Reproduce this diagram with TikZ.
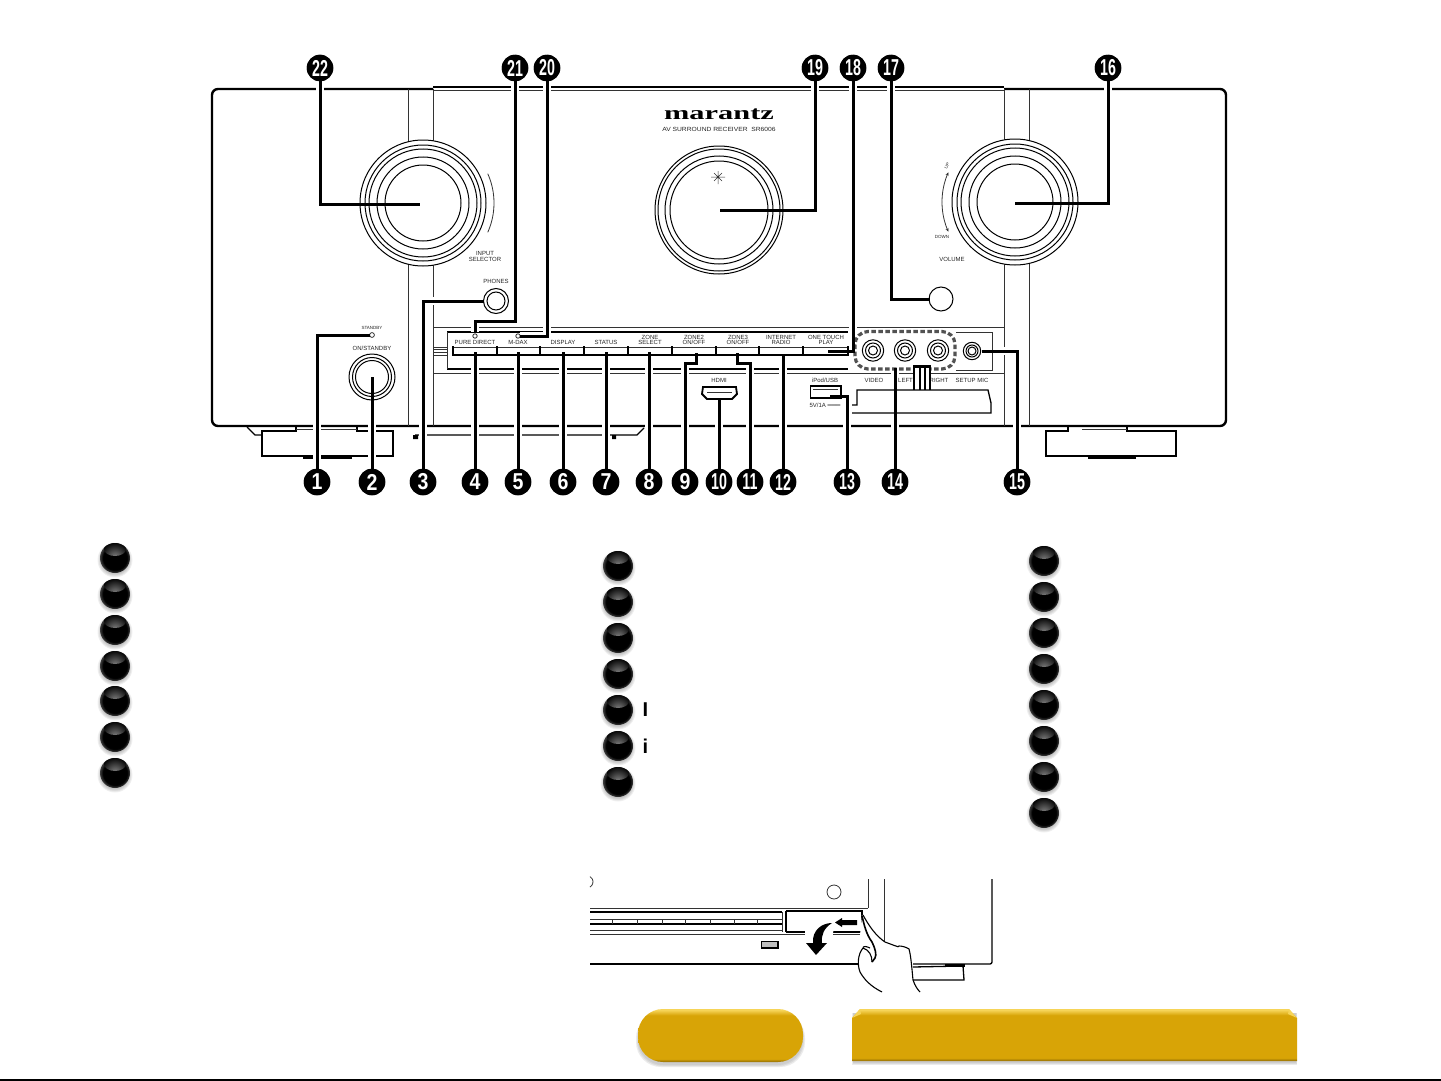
\documentclass[tikz,border=0pt]{standalone}
\usepackage{fontspec}
\setmainfont{Liberation Sans}
\newfontfamily\numA[FakeStretch=0.85]{Liberation Sans Bold}
\newfontfamily\numB[FakeStretch=0.62]{Liberation Sans Bold}
\newfontfamily\logofont[FakeStretch=1.6]{Liberation Serif Bold}
\newfontfamily\labfont[FakeStretch=1.12]{Liberation Sans}
\usetikzlibrary{arrows.meta}
\definecolor{goldbase}{HTML}{D8A406}
\definecolor{goldlight}{HTML}{F6D458}
\definecolor{golddark}{HTML}{8F6C04}
\definecolor{rimgray}{gray}{0.24}
\pgfdeclareradialshading{gloss}{\pgfpointorigin}{color(0bp)=(black); color(20bp)=(black); color(25bp)=(rimgray); color(50bp)=(rimgray)}
\pgfdeclareverticalshading{goldv}{100bp}{color(0bp)=(golddark); color(25bp)=(golddark); color(28bp)=(goldbase); color(69bp)=(goldbase); color(74bp)=(goldlight); color(100bp)=(goldlight)}
\tikzset{
  thinl/.style={line width=0.8pt,black!80},
  medl/.style={line width=1.3pt,black},
  thickl/.style={line width=2.4pt,black},
  ring/.style={line width=1pt,black},
  conn/.style={line width=3pt,black},
  halo/.style={line width=8pt,white},
  lab/.style={font=\fontsize{6}{5.6}\selectfont,text=black!85,align=center,inner sep=0pt},
  numa/.style={circle,fill=black,text=white,minimum size=26.5pt,inner sep=0pt,font=\numA\fontsize{23}{23}\selectfont},
  numb/.style={circle,fill=black,text=white,minimum size=26.5pt,inner sep=0pt,font=\numB\fontsize{23}{23}\selectfont},
  ball/.style={circle,minimum size=30pt,inner sep=0pt,shading=gloss,
    path picture={\shade[inner color=black!48,outer color=black] (path picture bounding box.center)++(0,-9) ellipse (11 and 7);}},
  ballshadow/.style={fill=black,opacity=0.06},
  jack/.style={line width=1pt,black,fill=white}
}
\newcommand\knobrings[4]{\fill[white] (#1,#2) circle (#3);\foreach \r in {#4}{\draw[ring] (#1,#2) circle (\r);}}
\begin{document}
\begin{tikzpicture}[x=1pt,y=-1pt]
\useasboundingbox (0,0) rectangle (1441,1081);
\fill[white] (0,0) rectangle (1441,1081);
% ---------- receiver body
\draw[thickl,rounded corners=6pt] (433,89) -- (212,89) -- (212,426) -- (1226,426) -- (1226,89) -- (1004,89);
\draw[thickl] (433,87) -- (1004,87);
\draw[thinl] (433,90.5) -- (1004,90.5);
\draw[thinl] (408,89) -- (408,426) (433,89) -- (433,426) (1004,89) -- (1004,426) (1029,89) -- (1029,426);
\draw[thinl] (433,327) -- (1004,327) (433,373) -- (1004,373);
\draw[medl] (447,332) -- (848,332) (447,369) -- (848,369);
\draw[thinl] (447,332) -- (447,369);
\draw[thinl] (433,347) -- (447,347) (433,349.5) -- (447,349.5) (433,352) -- (447,352) (433,355) -- (447,355);
% feet
\draw[thickl] (296,426) -- (296,431) -- (262,431) -- (262,456) -- (393,456) -- (393,431) -- (357,431) -- (357,426);
\draw[thickl] (303,457.5) -- (352,457.5);
\draw[medl] (247,427) -- (255,435) -- (262,435);
\draw[thinl] (296,429) -- (357,429);
\draw[medl] (415,435) -- (637,435) -- (644,428);
\fill (413,435) rectangle (418,439) (612,435) rectangle (616,439);
\draw[thickl] (1068,426) -- (1068,431) -- (1046,431) -- (1046,456) -- (1176,456) -- (1176,431) -- (1127,431) -- (1127,426);
\draw[thickl] (1088,457.5) -- (1136,457.5);
\draw[thinl] (1082,429) -- (1127,429);
% number nodes
\node[numa] (n1) at (317,482) {1};
\node[numa] (n2) at (372,482) {2};
\node[numa] (n3) at (423,482) {3};
\node[numa] (n4) at (475,482) {4};
\node[numa] (n5) at (518,482) {5};
\node[numa] (n6) at (563,482) {6};
\node[numa] (n7) at (606,482) {7};
\node[numa] (n8) at (649,482) {8};
\node[numa] (n9) at (685,482) {9};
\node[numb] (n10) at (719,482) {10};
\node[numb] (n11) at (750,482) {11};
\node[numb] (n12) at (783,482) {12};
\node[numb] (n13) at (847,482) {13};
\node[numb] (n14) at (895,482) {14};
\node[numb] (n15) at (1017,482) {15};
\node[numb] (n16) at (1108,68) {16};
\node[numb] (n17) at (891,68) {17};
\node[numb] (n18) at (853,68) {18};
\node[numb] (n19) at (815,68) {19};
\node[numb] (n20) at (547,68) {20};
\node[numb] (n21) at (515,68) {21};
\node[numb] (n22) at (320,68) {22};
% connector targets
\coordinate (t1) at (370,335);
\coordinate (t2) at (372,377);
\coordinate (t3) at (484,301);
\coordinate (t4) at (475,352);
\coordinate (t5) at (518,352);
\coordinate (t6) at (563,352);
\coordinate (t7) at (606,352);
\coordinate (t8) at (649,352);
\coordinate (k9) at (685,363);
\coordinate (t9) at (696,353);
\coordinate (t10) at (719,398);
\coordinate (k11) at (750,363);
\coordinate (t11) at (737,353);
\coordinate (t12) at (783,354);
\coordinate (t13) at (830,396);
\coordinate (t14) at (895,368);
\coordinate (t15) at (982,351);
\coordinate (t16) at (1015,203);
\coordinate (t17) at (930,299);
\coordinate (t18) at (828,351);
\coordinate (t19) at (720,210);
\coordinate (t20) at (520,336);
\coordinate (k21) at (515,321);
\coordinate (t21) at (475,332);
\coordinate (t22) at (420,204);
\newcommand\connectors[1]{%
  \draw[#1] (n1) |- (t1);
  \draw[#1] (n2) -- (t2);
  \draw[#1] (n3) |- (t3);
  \draw[#1] (n4) -- (t4);
  \draw[#1] (n5) -- (t5);
  \draw[#1] (n6) -- (t6);
  \draw[#1] (n7) -- (t7);
  \draw[#1] (n8) -- (t8);
  \draw[#1] (n9) -- (k9) -| (t9);
  \draw[#1] (n10) -- (t10);
  \draw[#1] (n11) -- (k11) -| (t11);
  \draw[#1] (n12) -- (t12);
  \draw[#1] (n13) |- (t13);
  \draw[#1] (n14) -- (t14);
  \draw[#1] (n15) |- (t15);
  \draw[#1] (n16) |- (t16);
  \draw[#1] (n17) |- (t17);
  \draw[#1] (n18) |- (t18);
  \draw[#1] (n19) |- (t19);
  \draw[#1] (n20) |- (t20);
  \draw[#1] (n21) -- (k21) -| (t21);
  \draw[#1] (n22) |- (t22);
}
\connectors{halo}
% knobs
\knobrings{423}{203}{63}{63,58,54,46,38}
\knobrings{719}{210}{64}{64,61,54,49}
\knobrings{1015}{202}{63}{63,58,54,46,38}
\draw[jack] (372,377) circle (23);
\draw[jack] (372,377) circle (19.5);
\draw[jack] (372,377) circle (16.5);
\draw[jack] (496,301) circle (12.5);
\draw[jack] (496,301) circle (9);
\draw[jack] (941,299) circle (12);
\draw[thinl] (372,335) circle (2.4);
\draw[thinl] (475,336) circle (2.2);
\draw[thinl] (518,336) circle (2.2);
% dial arcs
\draw[thinl,domain=-24:24,samples=20,variable=\a] plot ({422+72*cos(\a)},{203-72*sin(\a)});
\draw[thinl,-{Stealth[length=3.5pt,width=3pt]},domain=180:156,samples=20,variable=\a] plot ({1015+73*cos(\a)},{202-73*sin(\a)});
\draw[thinl,-{Stealth[length=3.5pt,width=3pt]},domain=180:204,samples=20,variable=\a] plot ({1015+73*cos(\a)},{202-73*sin(\a)});
% star
\draw[line width=0.5pt,black!80] (711,177) -- (725,177) (718,171) -- (718,184) (714,173) -- (722,181) (722,173) -- (714,181);
% buttons
\draw[medl] (452,355) -- (848,355);
\draw[thinl] (452,347) -- (848,347);
\foreach \b in {453,497,540,584,628,672,716,759,803,848}{\draw[medl] (\b,346) -- (\b,356);}
% HDMI
\draw[line width=1.8pt,black,fill=white] (703,387) -- (736,387) -- (737,394) -- (732,399) -- (707,399) -- (702,394) -- cycle;
\draw[thinl] (707,392) -- (732,392);
% USB
\draw[line width=1.8pt,black,fill=white] (810.5,386) rectangle (841,398);
\draw[thinl] (813,389) -- (838,389);
% lower bay
\draw[medl] (852,405) -- (857,405) -- (857,390) -- (988,390) -- (991,403) -- (991,413) -- (852,413);
% jack bay
\draw[thinl] (956,332) -- (992,332) -- (992,370) -- (956,370);
\foreach \x in {873,905,938}{
  \draw[jack] (\x,350.5) circle (10.7);
  \draw[jack] (\x,350.5) circle (7.5);
  \draw[jack] (\x,350.5) circle (4.5);
}
\draw[jack] (972,351) circle (8.7);
\draw[jack] (972,351) circle (6);
\draw[jack] (972,351) circle (4);
\draw[line width=3.2pt,black!68,dash pattern=on 4.5pt off 2.5pt,rounded corners=13pt] (855,331.5) rectangle (955,369);
% labels
\node[lab] (l1) at (372,327.5) {\fontsize{4.5}{5}\selectfont STANDBY};
\node[lab] (l2) at (372,348.5) {ON/STANDBY};
\node[lab] (l3) at (496,281) {PHONES};
\node[lab] (l4) at (475,342) {PURE DIRECT};
\node[lab] (l5) at (518,342) {M-DAX};
\node[lab] (l6) at (563,342) {DISPLAY};
\node[lab] (l7) at (606,342) {STATUS};
\node[lab] (l8) at (650,340) {ZONE\\SELECT};
\node[lab] (l9) at (694,340) {ZONE2\\ON/OFF};
\node[lab] (l10) at (738,340) {ZONE3\\ON/OFF};
\node[lab] (l11) at (781,340) {INTERNET\\RADIO};
\node[lab] (l12) at (826,340) {ONE TOUCH\\PLAY};
\node[lab] (l13) at (719,380) {HDMI};
\node[lab] (l14) at (825,380) {iPod/USB};
\node[lab] (l15) at (825,405) {5V/1A ═══};
\node[lab] (l16) at (874,380.5) {VIDEO};
\node[lab] (l17) at (905.5,380.5) {LEFT};
\node[lab] (l18) at (939,380.5) {RIGHT};
\node[lab] (l19) at (972,380.5) {SETUP MIC};
\node[lab] (l20) at (485,256.5) {INPUT\\SELECTOR};
\node[lab] (l21) at (952,259) {VOLUME};
\node[lab,rotate=60] (l22) at (947,166) {\fontsize{4.5}{5}\selectfont UP};
\node[lab] (l23) at (942,237) {\fontsize{4.5}{5}\selectfont DOWN};
\node[inner sep=0pt,font=\logofont\fontsize{19}{19}\selectfont] (logo) at (719,114) {marantz};
\node[lab,font=\labfont\fontsize{6}{5.6}\selectfont] (l24) at (719,129) {AV SURROUND RECEIVER \ SR6006};
% strip over the bay
\fill[white] (914,368) rectangle (930,389);
\draw[line width=1.8pt] (914,367) -- (914,390) (920,367) -- (920,390) (925,367) -- (925,390) (930,367) -- (930,390);
\fill (913,365) rectangle (931,368);
% connectors
\connectors{conn}
% number nodes on top
\foreach \n/\x/\y in {1/317/482,2/372/482,3/423/482,4/475/482,5/518/482,6/563/482,7/606/482,8/649/482,9/685/482}{
  \node[numa] (top\n) at (\x,\y) {\n};}
\foreach \n/\x/\y in {10/719/482,11/750/482,12/783/482,13/847/482,14/895/482,15/1017/482,16/1108/68,17/891/68,18/853/68,19/815/68,20/547/68,21/515/68,22/320/68}{
  \node[numb] (top\n) at (\x,\y) {\n};}
% glossy list balls
\foreach \c/\x/\ys in {a/115/{558,594,630,666,701,737,773},b/618/{566,602,638,674,710,746,782},c/1044/{561,597,633,669,705,741,777,813}}{
  \foreach \y in \ys {
    \foreach \s in {35,33,31,29}{\fill[ballshadow] (\x,\y+2) circle (\s/2);}
    \node[ball] (ball\c\y) at (\x,\y) {};
  }
}
\node[inner sep=0pt,font=\bfseries\fontsize{20}{20}\selectfont,anchor=center] (listI) at (645.5,710) {I};
\node[inner sep=0pt,font=\bfseries\fontsize{20}{20}\selectfont,anchor=center] (listi) at (645.5,746) {i};
% inset illustration
\draw[thinl] (590,887) arc[start angle=60,end angle=-60,radius=6];
\draw[thinl] (834,892) circle (7);
\draw[thinl] (868,879) -- (868,908);
\draw[thinl] (884,879) -- (884,941);
\draw[medl,rounded corners=2pt] (992,879) -- (992,964) -- (913,964);
\draw[line width=1.6pt,black] (590,964) -- (859,964);
\draw[thinl] (590,908) -- (868,908) (590,934) -- (868,934);
\draw[medl] (590,912) -- (782,912);
\draw[thinl] (590,930) -- (782,930);
\fill (600,912) circle (1);
\draw[medl] (590,924) -- (782,924);
\draw[thinl] (590,919) -- (782,919);
\foreach \b in {612,637,662,685,710,734,757,782}{\draw[thinl,line width=1pt] (\b,919) -- (\b,924);}
\draw[thinl] (782,912) -- (782,932);
\draw[line width=1.1pt] (786,932) -- (786,911);
\draw[line width=1.6pt] (786,911) -- (862,911) -- (862,932) -- (786,932);
\draw[line width=1.1pt,fill=black!25] (761.5,941.5) rectangle (778,948);
\draw[medl] (913,967) -- (963,966) -- (964,980) -- (913,980);
\fill (945,964) rectangle (965,967);
\fill[white] (825,920) -- (835,920) -- (832,940) -- (805,950) -- (805,930) -- cycle;
\fill (835,922.5) -- (842,918) -- (842,920) -- (857,920) -- (857,925) -- (842,925) -- (842,927) -- cycle;
\fill (832,923) .. controls (822,923) and (812,930) .. (813,943) -- (806,943) -- (816,955) -- (827,943) -- (822,943) .. controls (821,935) and (824,928) .. (832,923) -- cycle;
% hand
\fill[white] (862,915) -- (885,942) -- (910,950) -- (913,980) -- (920,992) -- (882,992) -- (860,975) -- (858,955) -- cycle;
\draw[line width=1.1pt] (863,915) .. controls (869,926) and (876,936) .. (885,942) -- (893,945) .. controls (896,945) and (898,948) .. (899,946) .. controls (902,946) and (906,947) .. (909,949) .. controls (911,956) and (912,970) .. (913,980) .. controls (915,986) and (918,990) .. (920,992);
\draw[line width=1.6pt] (862,916) .. controls (864,924) and (866,934) .. (872,942) .. controls (875,948) and (877,955) .. (875,958) -- (872,962);
\draw[line width=1.1pt] (870,948) .. controls (866,946) and (863,946) .. (863,948) .. controls (858,954) and (857,964) .. (860,972) .. controls (864,979) and (870,986) .. (882,992);
\draw[line width=1.1pt] (863,948) .. controls (869,950) and (872,955) .. (872,962);
% gold buttons
\foreach \s/\o in {0/0.06,1/0.07,2/0.08}{
  \fill[black,opacity=\o,rounded corners=25pt] (638-\s,1013) rectangle (803+\s,1065+\s);
  \fill[black,opacity=\o] (853-\s/2,1013) rectangle (1296+\s/2,1063+\s);
}
\node[minimum width=165pt,minimum height=53pt,rounded corners=25pt,shading=goldv,inner sep=0pt] (pill) at (720.5,1035.5) {};
\path[shading=goldv] (860,1009) -- (1289,1009) -- (1297,1018) -- (1297,1061) -- (852,1061) -- (852,1018) -- cycle;
\fill[goldlight] (852,1018) -- (860,1009) -- (861,1014) -- cycle;
\fill[goldlight] (1297,1018) -- (1289,1009) -- (1288,1014) -- cycle;
\draw[line width=2pt,black] (0,1079.5) -- (1441,1079.5);
\end{tikzpicture}
\end{document}
